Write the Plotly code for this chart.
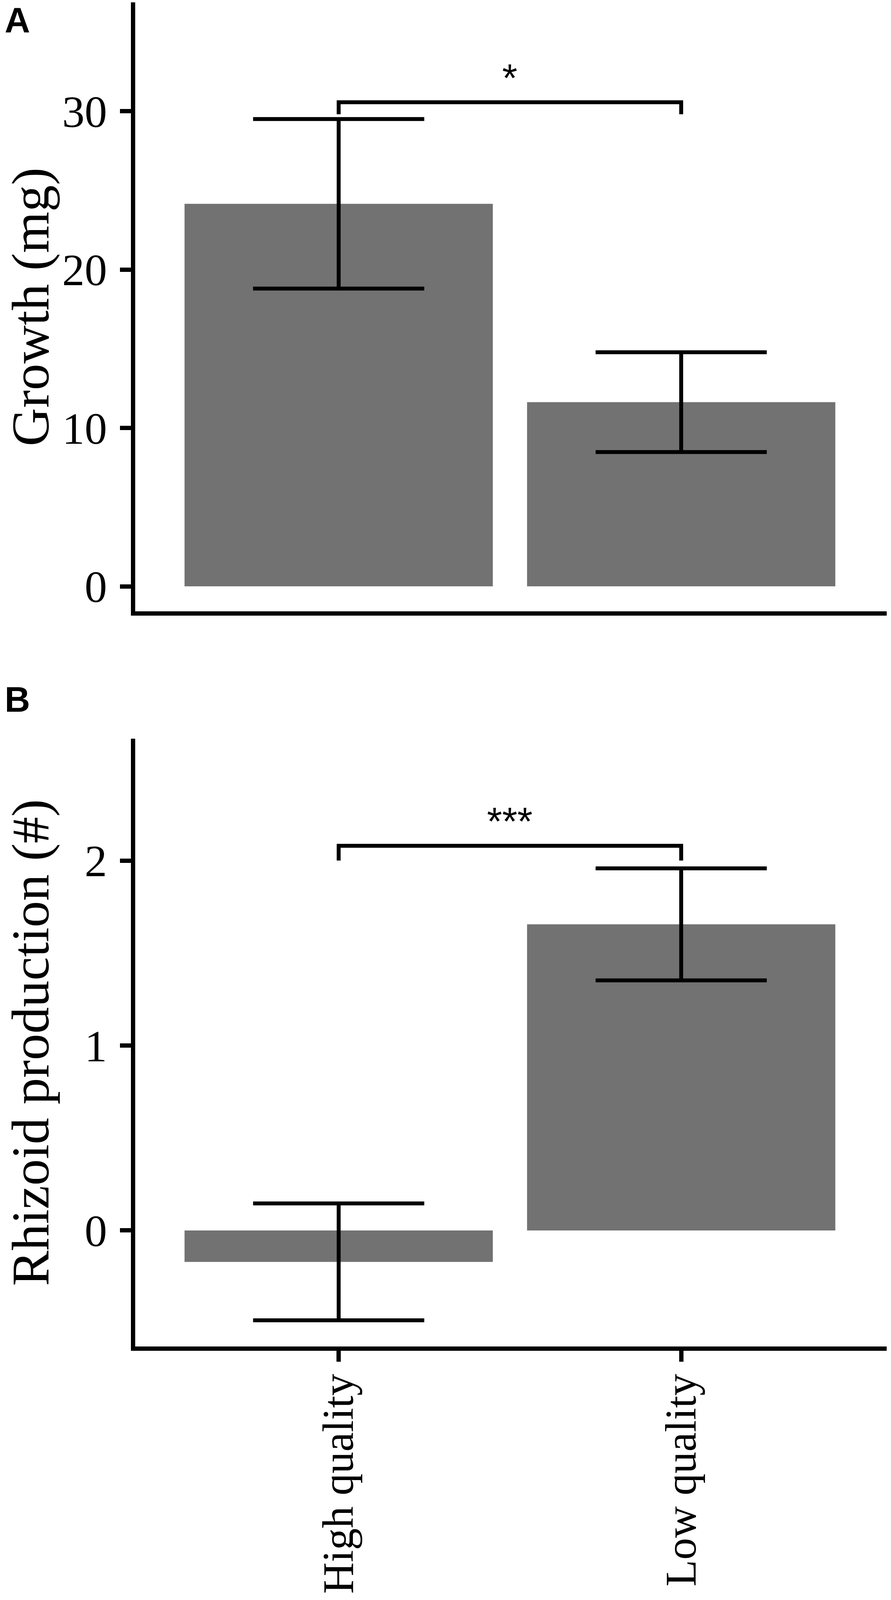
import plotly.graph_objects as go

# ---------------- data ----------------
categories = ["High quality", "Low quality"]
growth_mean = [24.15, 11.63]
growth_se = [5.35, 3.15]
rhizoid_mean = [-0.17, 1.655]
rhizoid_se = [0.316, 0.303]

growth_ticks = [0, 10, 20, 30]
rhizoid_ticks = [0, 1, 2]

# significance brackets: (bar y, tip y, label y, label)
sig_growth = [30.56, 29.80, 32.42, "*"]
sig_rhizoid = [2.08, 2.00, 2.24, "***"]

panel_labels = ["A", "B"]
y_titles = ["Growth (mg)", "Rhizoid production (#)"]

# ---------------- layout geometry ----------------
# positions measured on the 2280x4161 reference, used as fractions
W, H_REF = 2280, 4161
FIG_H = 4096          # visible height of the browser viewport
px_left, px_right = 346, 2269
A_top, A_bot = 6, 1590
B_top, B_bot = 1921, 3502


def xd(a, b):
    return [a / W, b / W]


def yd(top, bot):
    return [1 - bot / H_REF, 1 - top / H_REF]


BAR_COLOR = "#727272"
SERIF = "Liberation Serif, Times New Roman, serif"
SANS = "Liberation Sans, Arial, sans-serif"
TICK_SIZE = 115
XTICK_SIZE = 112
TITLE_SIZE = 136

fig = go.Figure()

for i, (means, ses) in enumerate([(growth_mean, growth_se), (rhizoid_mean, rhizoid_se)]):
    xa = "x" if i == 0 else "x2"
    ya = "y" if i == 0 else "y2"
    fig.add_trace(go.Bar(
        x=categories, y=means, width=0.9,
        marker=dict(color=BAR_COLOR, line=dict(width=0)),
        error_y=dict(type="data", array=ses, visible=True, color="black",
                     thickness=10, width=219),
        xaxis=xa, yaxis=ya, showlegend=False, hoverinfo="skip",
    ))

for i, sig in enumerate([sig_growth, sig_rhizoid]):
    xa = "x" if i == 0 else "x2"
    ya = "y" if i == 0 else "y2"
    bar_y, tip_y, lab_y, lab = sig
    fig.add_trace(go.Scatter(
        x=[categories[0], categories[0], categories[1], categories[1]],
        y=[tip_y, bar_y, bar_y, tip_y],
        mode="lines", line=dict(color="black", width=10),
        xaxis=xa, yaxis=ya, showlegend=False, hoverinfo="skip",
    ))
    fig.add_annotation(
        x=0.5, y=lab_y, xref=xa, yref=ya, text=lab, showarrow=False,
        font=dict(family=SANS, size=100, color="black"),
        xanchor="center", yanchor="middle", yshift=-13,
    )

axis_common = dict(
    showline=True, linecolor="black", linewidth=11,
    showgrid=False, zeroline=False,
    ticks="outside", ticklen=28, tickwidth=11, tickcolor="black",
    tickfont=dict(family=SERIF, size=TICK_SIZE, color="black"),
)

fig.update_layout(
    width=W, height=FIG_H,
    margin=dict(l=0, r=0, t=0, b=0),
    paper_bgcolor="white", plot_bgcolor="white",
    bargap=0.1,
    xaxis=dict(axis_common, domain=xd(px_left, px_right), anchor="y",
               type="category", range=[-0.594, 1.6],
               ticks="", showticklabels=False),
    yaxis=dict(axis_common, domain=yd(A_top, A_bot), anchor="x",
               range=[-1.58, 36.87], tickvals=growth_ticks,
               ticklabelstandoff=10),
    xaxis2=dict(axis_common, domain=xd(px_left, px_right), anchor="y2",
                type="category", range=[-0.594, 1.6], tickangle=-90,
                tickfont=dict(family=SERIF, size=XTICK_SIZE, color="black"),
                ticklabelstandoff=-14),
    yaxis2=dict(axis_common, domain=yd(B_top, B_bot), anchor="x2",
                range=[-0.628, 2.659], tickvals=rhizoid_ticks,
                ticklabelstandoff=10),
)

# y-axis titles (rotated)
for title, (top, bot) in zip(y_titles, [(A_top, A_bot), (B_top, B_bot)]):
    fig.add_annotation(
        x=78 / W, y=1 - ((top + bot) / 2) / H_REF, xref="paper", yref="paper",
        text=title, textangle=-90, showarrow=False,
        font=dict(family=SERIF, size=TITLE_SIZE, color="black"),
        xanchor="center", yanchor="middle",
    )

# panel labels
for lab, top_px in zip(panel_labels, [0, 1767]):
    fig.add_annotation(
        x=13 / W, y=1 - top_px / H_REF, xref="paper", yref="paper",
        text="<b>%s</b>" % lab, showarrow=False,
        font=dict(family=SANS, size=90, color="black"),
        xanchor="left", yanchor="top", xshift=-3,
    )

fig.write_html("out.html", config={"displayModeBar": False},
               post_script="document.body.style.margin='0';")
